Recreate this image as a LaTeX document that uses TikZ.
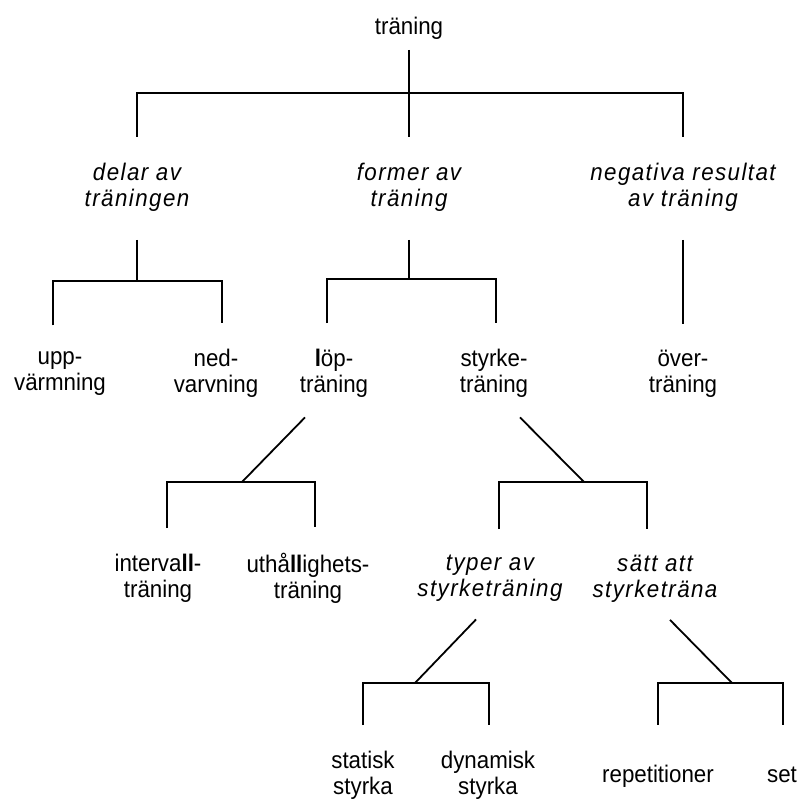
\documentclass[tikz,border=0pt]{standalone}
\usepackage{fontspec}
\setmainfont[FakeStretch=0.93]{Liberation Sans}
\newfontfamily\trackfont[LetterSpace=6, FakeStretch=0.93]{Liberation Sans}

\begin{document}
\begin{tikzpicture}[x=1pt, y=-1pt, line width=1.8pt,
    lbl/.style={font=\fontsize{24}{26}\selectfont, align=center, inner sep=0pt,
      outer xsep=0pt, outer ysep=26pt, execute at begin node=\strut, execute at end node=\strut},
    cat/.style={lbl, font=\fontsize{24}{26}\selectfont\trackfont\itshape}]
    \useasboundingbox (0,0) rectangle (801,800);

    % top
    \node[lbl, outer ysep=7pt] (root) at (409,29.8) {träning};
    \node[cat] (delar) at (137,188.3) {delar av\\träningen};
    \node[cat] (former) at (409,188.3) {former av\\träning};
    \node[cat] (negativa) at (683,188.3) {negativa resultat\\av träning};

    % second row
    \node[lbl] (upp) at (60,374.8) {upp-\\värmning};
    \node[lbl] (ned) at (216,374.8) {ned-\\varvning};
    \node[lbl] (lop) at (334,374.8) {{\bfseries l}öp-\\träning};
    \node[lbl] (styrke) at (494,374.8) {styrke-\\träning};
    \node[lbl] (over) at (683,374.8) {över-\\träning};

    % third row
    \node[lbl] (intervall) at (158,579.8) {interva{\bfseries ll}-\\träning};
    \node[lbl] (uthall) at (308,579.8) {uthå{\bfseries ll}ighets-\\träning};
    \node[cat] (typer) at (490,579.8) {typer av\\styrketräning};
    \node[cat] (satt) at (655,579.8) {sätt att\\styrketräna};

    % bottom row
    \node[lbl] (statisk) at (363,776.8) {statisk\\styrka};
    \node[lbl] (dynamisk) at (488,776.8) {dynamisk\\styrka};
    \node[lbl, outer ysep=39pt] (rep) at (658,776.8) {repetitioner};
    \node[lbl, outer ysep=39pt] (set) at (782,776.8) {set};

    % joints
    \coordinate (j0) at (409,93);
    \coordinate (j1) at (137,281);
    \coordinate (j2) at (409,279);
    \coordinate (j3) at (242,482);
    \coordinate (j4) at (584,482);
    \coordinate (j5) at (415,683);
    \coordinate (j6) at (732,683);

    \draw (root.south) -- (former.north);
    \draw (delar.north) |- (j0) -| (negativa.north);

    \draw (delar.south) -- (j1);
    \draw ([xshift=-7pt]upp.north) |- (j1) -| ([xshift=6pt]ned.north);
    \draw (former.south) -- (j2);
    \draw ([xshift=-7pt]lop.north) |- (j2) -| ([xshift=2pt]styrke.north);
    \draw (negativa.south) -- (over.north);

    \draw ([xshift=-29pt,yshift=9pt]lop.south) -- (j3);
    \draw ([xshift=9pt]intervall.north) |- (j3) -| ([xshift=7pt]uthall.north);
    \draw ([xshift=26pt,yshift=9pt]styrke.south) -- (j4);
    \draw ([xshift=9pt]typer.north) |- (j4) -| ([xshift=-8pt]satt.north);

    \draw ([xshift=-14pt,yshift=11pt]typer.south) -- (j5);
    \draw (statisk.north) |- (j5) -| ([xshift=1pt]dynamisk.north);
    \draw ([xshift=15pt,yshift=11pt]satt.south) -- (j6);
    \draw (rep.north) |- (j6) -| ([xshift=1pt]set.north);
\end{tikzpicture}
\end{document}
